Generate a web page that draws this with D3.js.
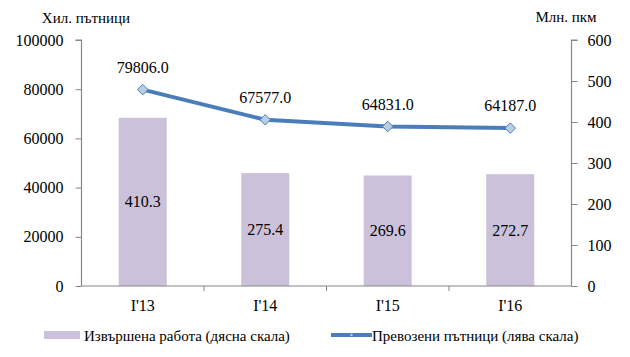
<!DOCTYPE html>
<html>
<head>
<meta charset="utf-8">
<script src="https://cdn.jsdelivr.net/npm/d3@7"></script>
<style>
  html, body { margin: 0; padding: 0; background: #fff; }
  svg { display: block; }
</style>
</head>
<body>
<svg id="chart" width="630" height="357"></svg>
<script>
const categories = ["I'13", "I'14", "I'15", "I'16"];
const workValues = [410.3, 275.4, 269.6, 272.7];        // Извършена работа, млн. пкм (right axis)
const passengerValues = [79806.0, 67577.0, 64831.0, 64187.0]; // Превозени пътници, хил. (left axis)
const leftTicks = [0, 20000, 40000, 60000, 80000, 100000];
const rightTicks = [0, 100, 200, 300, 400, 500, 600];
const leftTitle = "Хил. пътници";
const rightTitle = "Млн. пкм";
const legendLabels = ["Извършена работа (дясна скала)", "Превозени пътници (лява скала)"];

const FONT = "Liberation Serif, DejaVu Serif, serif";
const svg = d3.select("#chart").attr("font-family", FONT);
const m = { left: 81.5, right: 571.5, top: 40, bottom: 286 };
const axisColor = "#868686";
const barColor = "#CCC1DA";
const lineColor = "#4A7EBB";
const markerFill = "#B9CDE5";
const fs = 16;
const fsSmall = 15;

const xb = d3.scaleBand().domain(categories).range([m.left, m.right]);
const yL = d3.scaleLinear().domain([0, 100000]).range([m.bottom, m.top]);
const yR = d3.scaleLinear().domain([0, 600]).range([m.bottom, m.top]);
const cx = (c) => xb(c) + xb.bandwidth() / 2;

// bars
svg.append("g").selectAll("rect").data(categories).join("rect")
  .attr("x", (d) => cx(d) - 24)
  .attr("width", 48)
  .attr("y", (d, i) => yR(workValues[i]))
  .attr("height", (d, i) => yR(0) - yR(workValues[i]))
  .attr("fill", barColor);

// bar labels
svg.append("g").selectAll("text").data(categories).join("text")
  .attr("x", (d) => cx(d))
  .attr("y", (d, i) => (yR(workValues[i]) + yR(0)) / 2)
  .attr("dy", "0.35em")
  .attr("text-anchor", "middle")
  .attr("font-size", fs)
  .text((d, i) => workValues[i].toFixed(1));

// axes
const gL = svg.append("g").attr("transform", `translate(${m.left},0)`)
  .call(d3.axisLeft(yL).tickValues(leftTicks).tickSize(6).tickPadding(12).tickFormat(d3.format("d")));
const gR = svg.append("g").attr("transform", `translate(${m.right},0)`)
  .call(d3.axisRight(yR).tickValues(rightTicks).tickSize(6).tickPadding(10).tickFormat(d3.format("d")));
const gB = svg.append("g").attr("transform", `translate(0,${m.bottom})`)
  .call(d3.axisBottom(xb).tickSize(0).tickPadding(14));
svg.append("g").selectAll("line").data(categories.slice(1)).join("line")
  .attr("x1", (d) => xb(d)).attr("x2", (d) => xb(d))
  .attr("y1", m.bottom).attr("y2", m.bottom + 5)
  .attr("stroke", axisColor);

[gL, gR, gB].forEach((g) => {
  g.attr("font-family", FONT).attr("font-size", fs);
  g.select(".domain").attr("stroke", axisColor).attr("stroke-width", 1.2);
  g.selectAll(".tick line").attr("stroke", axisColor);
  g.selectAll(".tick text").attr("fill", "#000");
});
gL.select(".domain").attr("d", `M-6,${m.top}H0V${m.bottom}`);
gR.select(".domain").attr("d", `M6,${m.top}H0V${m.bottom}`);
gB.select(".domain").attr("d", `M${m.left},0H${m.right}`);

// line
const line = d3.line().x((d, i) => cx(categories[i])).y((d) => yL(d));
svg.append("path").datum(passengerValues)
  .attr("d", line).attr("fill", "none")
  .attr("stroke", lineColor).attr("stroke-width", 4).attr("stroke-linejoin", "round");

// markers
const diamond = d3.symbol().type(d3.symbolDiamond2).size(70);
svg.append("g").selectAll("path").data(passengerValues).join("path")
  .attr("transform", (d, i) => `translate(${cx(categories[i])},${yL(d)})`)
  .attr("d", diamond())
  .attr("fill", markerFill).attr("stroke", lineColor).attr("stroke-width", 1);

// line labels
svg.append("g").selectAll("text").data(passengerValues).join("text")
  .attr("x", (d, i) => cx(categories[i]))
  .attr("y", (d) => yL(d) - 17)
  .attr("text-anchor", "middle")
  .attr("font-size", fs)
  .text((d) => d.toFixed(1));

// axis titles
svg.append("text").attr("x", 86).attr("y", 23).attr("text-anchor", "middle").attr("font-size", fsSmall).text(leftTitle);
svg.append("text").attr("x", 566).attr("y", 22).attr("text-anchor", "middle").attr("font-size", fsSmall).text(rightTitle);

// legend
const lg = svg.append("g");
lg.append("rect").attr("x", 44).attr("y", 331).attr("width", 36).attr("height", 8).attr("fill", barColor);
lg.append("text").attr("x", 84).attr("y", 335.5).attr("dy", "0.35em").attr("font-size", fsSmall).text(legendLabels[0]);
lg.append("line").attr("x1", 331).attr("x2", 372).attr("y1", 335).attr("y2", 335)
  .attr("stroke", lineColor).attr("stroke-width", 4);
lg.append("path").attr("transform", "translate(351.5,335)").attr("d", d3.symbol().type(d3.symbolDiamond2).size(8)())
  .attr("fill", markerFill).attr("stroke", lineColor).attr("stroke-width", 0.5);
lg.append("text").attr("x", 372).attr("y", 335.5).attr("dy", "0.35em").attr("font-size", fsSmall).text(legendLabels[1]);
</script>
</body>
</html>
